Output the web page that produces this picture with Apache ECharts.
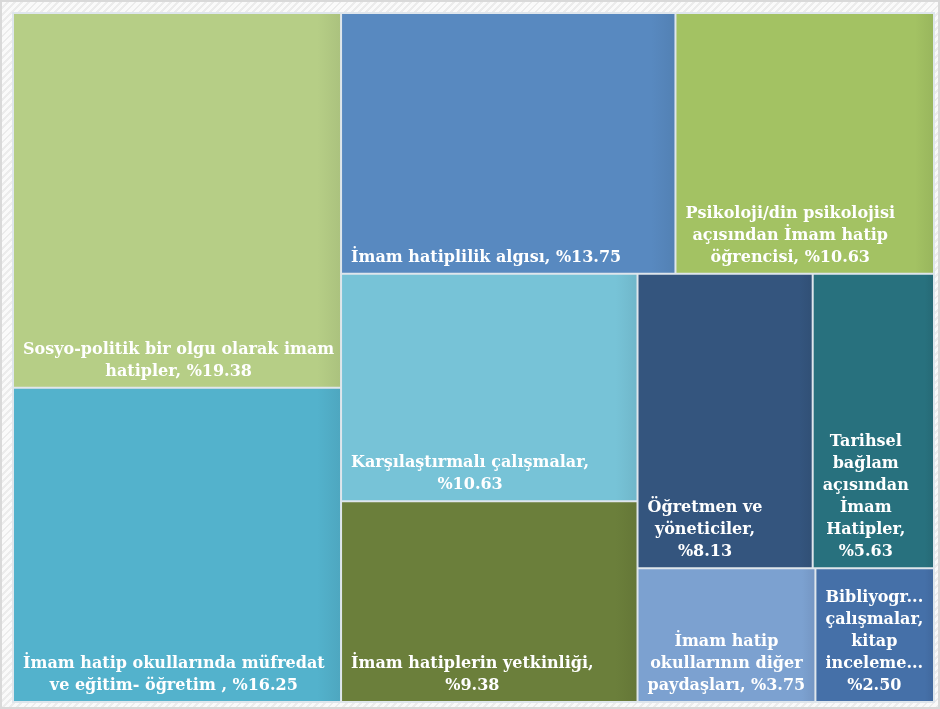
<!DOCTYPE html>
<html><head><meta charset="utf-8">
<script src="https://cdn.jsdelivr.net/npm/echarts@6/dist/echarts.min.js"></script>
<style>
html,body{margin:0;padding:0;background:#fff;}
#wrap{position:relative;width:940px;height:709px;box-sizing:border-box;border:2px solid #d9d9d9;
background:repeating-linear-gradient(-45deg,#ececec 0 2px,#fafafa 2px 5px);}
#c{position:absolute;left:-2px;top:-2px;width:940px;height:709px;}
</style></head><body>
<div id="wrap"><div id="c"></div></div>
<script>
// ---- data ----
const categories = [
  'Sosyo-politik bir olgu olarak imam\nhatipler',
  'İmam hatip okullarında müfredat\nve eğitim- öğretim ',
  'İmam hatiplilik algısı',
  'Karşılaştırmalı çalışmalar',
  'Psikoloji/din psikolojisi\naçısından İmam hatip\nöğrencisi',
  'İmam hatiplerin yetkinliği',
  'Öğretmen ve\nyöneticiler',
  'Tarihsel\nbağlam\naçısından\nİmam\nHatipler',
  'İmam hatip\nokullarının diğer\npaydaşları',
  'Bibliyogr...\nçalışmalar,\nkitap\ninceleme...'
];
const values = [19.38, 16.25, 13.75, 10.63, 10.63, 9.38, 8.13, 5.63, 3.75, 2.50];
const separators = [', ', ', ', ', ', ',\n', ', ', ',\n', ',\n', ',\n', ', ', '\n'];
// ---- styles ----
const colors = ['#B6CE86', '#53B2CC', '#5889C0', '#77C3D7', '#A3C263',
                '#6B7F3B', '#34557E', '#28717E', '#7CA1D0', '#4570A8'];

const FONT = 'bold 16px "DejaVu Serif"';
const PAD_X = 9, PAD_BOTTOM = 4;
const ctx = document.createElement('canvas').getContext('2d');
ctx.font = FONT;

function labelText(i) {
  return categories[i] + separators[i] + '%' + values[i].toFixed(2);
}
function darker(hex, f) {
  const n = parseInt(hex.slice(1), 16);
  const r = Math.round(((n >> 16) & 255) * f), g = Math.round(((n >> 8) & 255) * f), b = Math.round((n & 255) * f);
  return 'rgb(' + r + ',' + g + ',' + b + ')';
}

const data = categories.map((name, i) => {
  const text = labelText(i);
  const w = Math.max(...text.split('\n').map(l => ctx.measureText(l).width));
  return {
    name: name,
    value: values[i],
    itemStyle: {
      color: new echarts.graphic.LinearGradient(0, 0, 1, 0, [
        {offset: 0, color: colors[i]},
        {offset: 0.93, color: colors[i]},
        {offset: 1, color: darker(colors[i], 0.94)}
      ])
    },
    label: {
      formatter: text,
      position: [PAD_X + w / 2, '100%'],
      offset: [0, -PAD_BOTTOM]
    }
  };
});

const chart = echarts.init(document.getElementById('c'), null, {renderer: 'canvas'});
chart.setOption({
  animation: false,
  series: [{
    type: 'treemap',
    left: 12, top: 12, width: 923, height: 691,
    squareRatio: 1.235,
    roam: false,
    nodeClick: false,
    silent: true,
    breadcrumb: {show: false},
    sort: 'desc',
    itemStyle: {borderWidth: 1, borderColor: '#dfe6ec', gapWidth: 0},
    label: {
      show: true,
      color: '#ffffff',
      fontFamily: 'DejaVu Serif',
      fontWeight: 'bold',
      fontSize: 16,
      lineHeight: 22,
      align: 'center',
      verticalAlign: 'bottom',
      padding: 0,
      overflow: 'none'
    },
    data: data
  }]
});
</script>
</body></html>
